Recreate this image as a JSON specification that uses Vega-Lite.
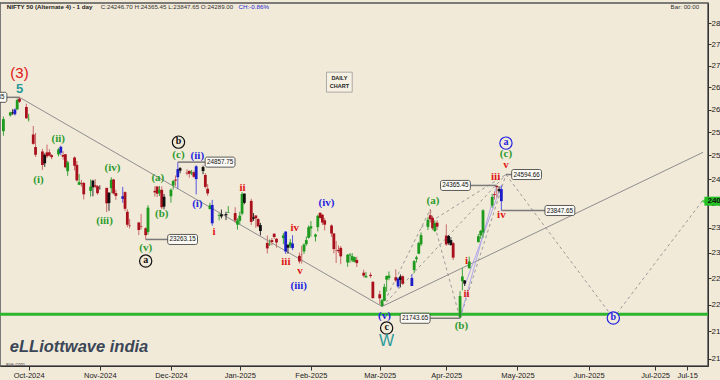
{
"$schema": "https://vega.github.io/schema/vega-lite/v6.json",
"width": 708, "height": 363,
"autosize": {"type": "none"},
"padding": {"left": 0, "top": 3, "right": 12, "bottom": 14},
"background": "#F2EAD9",
"config": {"view": {"stroke": "#555", "strokeWidth": 1.5}, "font": "Liberation Sans"},
"resolve": {"scale": {"color": "independent", "stroke": "independent"}},
"datasets": {
"candles": [
{"d":"2024-09-20T00:00","o":25525,"h":25849,"l":25426,"c":25791,"k":"u"},
{"d":"2024-09-23T00:00","o":25872,"h":25956,"l":25847,"c":25939,"k":"u"},
{"d":"2024-09-24T00:00","o":25921,"h":26011,"l":25886,"c":25940,"k":"n"},
{"d":"2024-09-25T00:00","o":25899,"h":26032,"l":25871,"c":26004,"k":"b"},
{"d":"2024-09-26T00:00","o":26005,"h":26250,"l":25998,"c":26216,"k":"u"},
{"d":"2024-09-27T00:00","o":26248,"h":26277.35,"l":26151,"c":26179,"k":"d"},
{"d":"2024-09-30T00:00","o":26061,"h":26134,"l":25794,"c":25811,"k":"d"},
{"d":"2024-10-01T00:00","o":25788,"h":25907,"l":25739,"c":25797,"k":"u"},
{"d":"2024-10-03T00:00","o":25453,"h":25639,"l":25230,"c":25250,"k":"d"},
{"d":"2024-10-04T00:00","o":25181,"h":25485,"l":24967,"c":25015,"k":"d"},
{"d":"2024-10-07T00:00","o":25085,"h":25143,"l":24694,"c":24796,"k":"d"},
{"d":"2024-10-08T00:00","o":24832,"h":25044,"l":24756,"c":25013,"k":"n"},
{"d":"2024-10-09T00:00","o":25066,"h":25234,"l":24947,"c":24982,"k":"d"},
{"d":"2024-10-10T00:00","o":25067,"h":25134,"l":24980,"c":24998,"k":"d"},
{"d":"2024-10-11T00:00","o":25006,"h":25028,"l":24920,"c":24964,"k":"d"},
{"d":"2024-10-14T00:00","o":25023,"h":25159,"l":24980,"c":25128,"k":"u"},
{"d":"2024-10-15T00:00","o":25186,"h":25212,"l":25008,"c":25057,"k":"b"},
{"d":"2024-10-16T00:00","o":25008,"h":25093,"l":24908,"c":24971,"k":"d"},
{"d":"2024-10-17T00:00","o":25028,"h":25029,"l":24728,"c":24750,"k":"d"},
{"d":"2024-10-18T00:00","o":24664,"h":24886,"l":24567,"c":24854,"k":"u"},
{"d":"2024-10-21T00:00","o":24956,"h":24978,"l":24680,"c":24781,"k":"d"},
{"d":"2024-10-22T00:00","o":24799,"h":24882,"l":24446,"c":24472,"k":"d"},
{"d":"2024-10-23T00:00","o":24378,"h":24604,"l":24378,"c":24435,"k":"u"},
{"d":"2024-10-24T00:00","o":24413,"h":24480,"l":24341,"c":24399,"k":"d"},
{"d":"2024-10-25T00:00","o":24418,"h":24440,"l":24074,"c":24181,"k":"d"},
{"d":"2024-10-28T00:00","o":24252,"h":24492,"l":24134,"c":24339,"k":"u"},
{"d":"2024-10-29T00:00","o":24328,"h":24484,"l":24140,"c":24466,"k":"n"},
{"d":"2024-10-30T00:00","o":24371,"h":24499,"l":24307,"c":24341,"k":"d"},
{"d":"2024-10-31T00:00","o":24349,"h":24372,"l":24172,"c":24205,"k":"d"},
{"d":"2024-11-01T00:00","o":24302,"h":24368,"l":24280,"c":24304,"k":"n"},
{"d":"2024-11-04T00:00","o":24315,"h":24316,"l":23816,"c":23995,"k":"d"},
{"d":"2024-11-05T00:00","o":24000,"h":24229,"l":23842,"c":24213,"k":"n"},
{"d":"2024-11-06T00:00","o":24308,"h":24537,"l":24204,"c":24484,"k":"u"},
{"d":"2024-11-07T00:00","o":24490,"h":24503,"l":24179,"c":24199,"k":"d"},
{"d":"2024-11-08T00:00","o":24207,"h":24276,"l":24066,"c":24148,"k":"d"},
{"d":"2024-11-11T00:00","o":24087,"h":24336,"l":24005,"c":24141,"k":"b"},
{"d":"2024-11-12T00:00","o":24226,"h":24243,"l":23839,"c":23883,"k":"d"},
{"d":"2024-11-13T00:00","o":23823,"h":23874,"l":23509,"c":23559,"k":"d"},
{"d":"2024-11-14T00:00","o":23542,"h":23675,"l":23484,"c":23532,"k":"d"},
{"d":"2024-11-18T00:00","o":23605,"h":23606,"l":23350,"c":23453,"k":"d"},
{"d":"2024-11-19T00:00","o":23529,"h":23780,"l":23464,"c":23518,"k":"d"},
{"d":"2024-11-21T00:00","o":23488,"h":23507,"l":23263.15,"c":23349,"k":"d"},
{"d":"2024-11-22T00:00","o":23411,"h":23956,"l":23359,"c":23907,"k":"u"},
{"d":"2024-11-25T00:00","o":24253,"h":24351,"l":24135,"c":24221,"k":"d"},
{"d":"2024-11-26T00:00","o":24344,"h":24344,"l":24125,"c":24194,"k":"d"},
{"d":"2024-11-27T00:00","o":24204,"h":24354,"l":24145,"c":24274,"k":"u"},
{"d":"2024-11-28T00:00","o":24274,"h":24345,"l":23874,"c":23914,"k":"d"},
{"d":"2024-11-29T00:00","o":23927,"h":24189,"l":23873,"c":24131,"k":"n"},
{"d":"2024-12-02T00:00","o":24140,"h":24301,"l":24008,"c":24276,"k":"u"},
{"d":"2024-12-03T00:00","o":24367,"h":24481,"l":24280,"c":24457,"k":"u"},
{"d":"2024-12-04T00:00","o":24488,"h":24574,"l":24350,"c":24467,"k":"d"},
{"d":"2024-12-05T00:00","o":24539,"h":24857.75,"l":24295,"c":24708,"k":"b"},
{"d":"2024-12-06T00:00","o":24729,"h":24751,"l":24620,"c":24677,"k":"n"},
{"d":"2024-12-09T00:00","o":24633,"h":24705,"l":24580,"c":24619,"k":"d"},
{"d":"2024-12-10T00:00","o":24672,"h":24677,"l":24530,"c":24610,"k":"d"},
{"d":"2024-12-11T00:00","o":24620,"h":24691,"l":24583,"c":24641,"k":"u"},
{"d":"2024-12-12T00:00","o":24642,"h":24675,"l":24527,"c":24548,"k":"d"},
{"d":"2024-12-13T00:00","o":24498,"h":24792,"l":24180,"c":24768,"k":"b"},
{"d":"2024-12-16T00:00","o":24753,"h":24781,"l":24601,"c":24668,"k":"n"},
{"d":"2024-12-17T00:00","o":24585,"h":24624,"l":24303,"c":24336,"k":"d"},
{"d":"2024-12-18T00:00","o":24297,"h":24395,"l":24150,"c":24199,"k":"d"},
{"d":"2024-12-19T00:00","o":23877,"h":24005,"l":23870,"c":23952,"k":"u"},
{"d":"2024-12-20T00:00","o":23961,"h":24066,"l":23538,"c":23588,"k":"b"},
{"d":"2024-12-23T00:00","o":23738,"h":23793,"l":23647,"c":23753,"k":"u"},
{"d":"2024-12-24T00:00","o":23770,"h":23867,"l":23685,"c":23727,"k":"n"},
{"d":"2024-12-26T00:00","o":23775,"h":23822,"l":23653,"c":23750,"k":"n"},
{"d":"2024-12-27T00:00","o":23801,"h":23938,"l":23800,"c":23813,"k":"u"},
{"d":"2024-12-30T00:00","o":23796,"h":23915,"l":23599,"c":23645,"k":"d"},
{"d":"2024-12-31T00:00","o":23560,"h":23689,"l":23460,"c":23645,"k":"u"},
{"d":"2025-01-01T00:00","o":23637,"h":23822,"l":23562,"c":23742,"k":"u"},
{"d":"2025-01-02T00:00","o":23783,"h":24226,"l":23751,"c":24189,"k":"u"},
{"d":"2025-01-03T00:00","o":24196,"h":24196,"l":23976,"c":24005,"k":"n"},
{"d":"2025-01-06T00:00","o":24045,"h":24090,"l":23551,"c":23616,"k":"d"},
{"d":"2025-01-07T00:00","o":23679,"h":23795,"l":23637,"c":23708,"k":"n"},
{"d":"2025-01-08T00:00","o":23746,"h":23751,"l":23497,"c":23689,"k":"d"},
{"d":"2025-01-09T00:00","o":23674,"h":23689,"l":23503,"c":23527,"k":"d"},
{"d":"2025-01-10T00:00","o":23552,"h":23596,"l":23345,"c":23432,"k":"n"},
{"d":"2025-01-13T00:00","o":23195,"h":23341,"l":22986,"c":23086,"k":"d"},
{"d":"2025-01-14T00:00","o":23165,"h":23264,"l":23135,"c":23176,"k":"u"},
{"d":"2025-01-15T00:00","o":23250,"h":23294,"l":23146,"c":23213,"k":"d"},
{"d":"2025-01-16T00:00","o":23377,"h":23392,"l":23272,"c":23312,"k":"d"},
{"d":"2025-01-17T00:00","o":23277,"h":23292,"l":23100,"c":23203,"k":"d"},
{"d":"2025-01-20T00:00","o":23290,"h":23392,"l":23170,"c":23345,"k":"u"},
{"d":"2025-01-21T00:00","o":23421,"h":23426,"l":22977,"c":23025,"k":"b"},
{"d":"2025-01-22T00:00","o":23099,"h":23169,"l":22981,"c":23155,"k":"n"},
{"d":"2025-01-23T00:00","o":23128,"h":23270,"l":23090,"c":23205,"k":"u"},
{"d":"2025-01-24T00:00","o":23183,"h":23347,"l":23050,"c":23092,"k":"b"},
{"d":"2025-01-27T00:00","o":22940,"h":23007,"l":22787,"c":22829,"k":"d"},
{"d":"2025-01-28T00:00","o":22961,"h":23137,"l":22786,"c":22957,"k":"d"},
{"d":"2025-01-29T00:00","o":23026,"h":23183,"l":22977,"c":23163,"k":"u"},
{"d":"2025-01-30T00:00","o":23170,"h":23322,"l":23139,"c":23250,"k":"u"},
{"d":"2025-01-31T00:00","o":23297,"h":23546,"l":23278,"c":23508,"k":"u"},
{"d":"2025-02-01T00:00","o":23528,"h":23633,"l":23319,"c":23482,"k":"u"},
{"d":"2025-02-03T00:00","o":23319,"h":23381,"l":23222,"c":23361,"k":"u"},
{"d":"2025-02-04T00:00","o":23510,"h":23762,"l":23424,"c":23739,"k":"u"},
{"d":"2025-02-05T00:00","o":23801,"h":23807,"l":23680,"c":23696,"k":"d"},
{"d":"2025-02-06T00:00","o":23761,"h":23773,"l":23556,"c":23603,"k":"d"},
{"d":"2025-02-07T00:00","o":23649,"h":23695,"l":23443,"c":23560,"k":"d"},
{"d":"2025-02-10T00:00","o":23543,"h":23568,"l":23316,"c":23382,"k":"d"},
{"d":"2025-02-11T00:00","o":23383,"h":23390,"l":22987,"c":23072,"k":"d"},
{"d":"2025-02-12T00:00","o":23050,"h":23235,"l":22798,"c":23045,"k":"d"},
{"d":"2025-02-13T00:00","o":23056,"h":23145,"l":22992,"c":23031,"k":"d"},
{"d":"2025-02-14T00:00","o":23097,"h":23133,"l":22775,"c":22929,"k":"d"},
{"d":"2025-02-17T00:00","o":22809,"h":22975,"l":22725,"c":22960,"k":"u"},
{"d":"2025-02-18T00:00","o":22964,"h":22993,"l":22801,"c":22945,"k":"u"},
{"d":"2025-02-19T00:00","o":22847,"h":22992,"l":22814,"c":22933,"k":"u"},
{"d":"2025-02-20T00:00","o":22821,"h":22923,"l":22812,"c":22913,"k":"u"},
{"d":"2025-02-21T00:00","o":22858,"h":22922,"l":22720,"c":22796,"k":"d"},
{"d":"2025-02-24T00:00","o":22609,"h":22668,"l":22519,"c":22553,"k":"d"},
{"d":"2025-02-25T00:00","o":22517,"h":22625,"l":22518,"c":22548,"k":"u"},
{"d":"2025-02-27T00:00","o":22568,"h":22614,"l":22508,"c":22545,"k":"d"},
{"d":"2025-02-28T00:00","o":22433,"h":22450,"l":22105,"c":22125,"k":"d"},
{"d":"2025-03-03T00:00","o":22195,"h":22262,"l":22004,"c":22119,"k":"d"},
{"d":"2025-03-04T00:00","o":21975,"h":22105,"l":21964,"c":22083,"k":"u"},
{"d":"2025-03-05T00:00","o":22073,"h":22395,"l":22067,"c":22337,"k":"u"},
{"d":"2025-03-06T00:00","o":22476,"h":22556,"l":22245,"c":22545,"k":"u"},
{"d":"2025-03-07T00:00","o":22509,"h":22634,"l":22464,"c":22553,"k":"u"},
{"d":"2025-03-10T00:00","o":22521,"h":22677,"l":22429,"c":22460,"k":"d"},
{"d":"2025-03-11T00:00","o":22345,"h":22522,"l":22314,"c":22497,"k":"b"},
{"d":"2025-03-12T00:00","o":22536,"h":22578,"l":22329,"c":22470,"k":"n"},
{"d":"2025-03-13T00:00","o":22541,"h":22558,"l":22378,"c":22397,"k":"d"},
{"d":"2025-03-17T00:00","o":22353,"h":22577,"l":22353,"c":22509,"k":"b"},
{"d":"2025-03-18T00:00","o":22662,"h":22857,"l":22599,"c":22834,"k":"u"},
{"d":"2025-03-19T00:00","o":22875,"h":22941,"l":22807,"c":22908,"k":"u"},
{"d":"2025-03-20T00:00","o":22981,"h":23216,"l":22973,"c":23191,"k":"u"},
{"d":"2025-03-21T00:00","o":23168,"h":23403,"l":23132,"c":23350,"k":"u"},
{"d":"2025-03-24T00:00","o":23515,"h":23709,"l":23451,"c":23658,"k":"u"},
{"d":"2025-03-25T00:00","o":23751,"h":23869,"l":23601,"c":23669,"k":"d"},
{"d":"2025-03-26T00:00","o":23700,"h":23736,"l":23451,"c":23487,"k":"d"},
{"d":"2025-03-27T00:00","o":23433,"h":23647,"l":23412,"c":23592,"k":"u"},
{"d":"2025-03-28T00:00","o":23600,"h":23649,"l":23451,"c":23519,"k":"d"},
{"d":"2025-04-01T00:00","o":23341,"h":23566,"l":23136,"c":23165,"k":"d"},
{"d":"2025-04-02T00:00","o":23193,"h":23350,"l":23158,"c":23332,"k":"n"},
{"d":"2025-04-03T00:00","o":23150,"h":23306,"l":23145,"c":23250,"k":"n"},
{"d":"2025-04-04T00:00","o":23190,"h":23214,"l":22857,"c":22904,"k":"d"},
{"d":"2025-04-07T00:00","o":21758,"h":22255,"l":21743.65,"c":22162,"k":"u"},
{"d":"2025-04-08T00:00","o":22446,"h":22697,"l":22270,"c":22536,"k":"u"},
{"d":"2025-04-09T00:00","o":22460,"h":22468,"l":22353,"c":22399,"k":"n"},
{"d":"2025-04-11T00:00","o":22695,"h":22923,"l":22695,"c":22829,"k":"u"},
{"d":"2025-04-15T00:00","o":23208,"h":23368,"l":23207,"c":23328,"k":"u"},
{"d":"2025-04-16T00:00","o":23345,"h":23452,"l":23273,"c":23437,"k":"u"},
{"d":"2025-04-17T00:00","o":23401,"h":23872,"l":23298,"c":23852,"k":"u"},
{"d":"2025-04-21T00:00","o":23949,"h":24189,"l":23903,"c":24125,"k":"u"},
{"d":"2025-04-22T00:00","o":24185,"h":24242,"l":24072,"c":24167,"k":"d"},
{"d":"2025-04-23T00:00","o":24357,"h":24359,"l":24119,"c":24329,"k":"d"},
{"d":"2025-04-24T00:00","o":24289,"h":24347,"l":24216,"c":24247,"k":"n"},
{"d":"2025-04-25T00:00","o":24289,"h":24365.45,"l":23847.65,"c":24039,"k":"b"}
],
"trend": [
{"id":"g1","d":"2024-09-27T00:00","p":26277.35},{"id":"g1","d":"2025-03-04T00:00","p":21964},
{"id":"g2","d":"2025-03-04T00:00","p":21964},{"id":"g2","d":"2025-07-21T21:00","p":25067}
],
"dash": [
{"id":"d1","d":"2025-03-04T00:00","p":21964},{"id":"d1","d":"2025-03-25T00:00","p":23869},
{"id":"d2","d":"2025-03-25T00:00","p":23869},{"id":"d2","d":"2025-04-07T00:00","p":21743.65},
{"id":"d3","d":"2025-04-07T00:00","p":21743.65},{"id":"d3","d":"2025-04-27T00:00","p":24594.66},
{"id":"d4","d":"2025-03-04T00:00","p":21964},{"id":"d4","d":"2025-04-27T00:00","p":24594.66},
{"id":"d5","d":"2025-03-21T00:00","p":23500},{"id":"d5","d":"2025-04-27T00:00","p":24594.66},
{"id":"d6","d":"2025-04-27T00:00","p":24594.66},{"id":"d6","d":"2025-06-12T19:00","p":21747},
{"id":"d7","d":"2025-06-12T19:00","p":21747},{"id":"d7","d":"2025-07-21T21:00","p":24061}
],
"lav": [
{"id":"l1","d":"2025-04-07T00:00","p":21743.65},{"id":"l1","d":"2025-04-23T00:00","p":24359},
{"id":"l2","d":"2025-04-09T00:00","p":22353},{"id":"l2","d":"2025-04-25T00:00","p":24365.45}
],
"conn": [
{"id":"c1","d":"2024-09-21T12:00","p":26277.35},{"id":"c1","d":"2024-09-27T00:00","p":26277.35},
{"id":"c2","d":"2024-11-21T00:00","p":23263.15},{"id":"c2","d":"2024-11-30T14:00","p":23263.15},
{"id":"c3","d":"2024-12-05T00:00","p":24857.75},{"id":"c3","d":"2024-12-16T22:00","p":24857.75},
{"id":"c4","d":"2025-04-11T12:00","p":24365.45},{"id":"c4","d":"2025-04-23T00:00","p":24365.45},
{"id":"c5","d":"2025-04-27T00:00","p":24594.66},{"id":"c5","d":"2025-04-29T12:00","p":24594.66},
{"id":"c6","d":"2025-04-25T00:00","p":23847.65},{"id":"c6","d":"2025-05-14T00:00","p":23847.65},
{"id":"c7","d":"2025-03-24T22:00","p":21743.65},{"id":"c7","d":"2025-04-07T00:00","p":21743.65}
],
"boxes": [
{"t":"26277.35","a":"2024-09-08T00:00","b":"2024-09-21T12:00","m":"2024-09-14T18:00","p":26277.35,"lo":26164.6,"hi":26390.6},
{"t":"23263.15","a":"2024-11-30T14:00","b":"2024-12-13T14:00","m":"2024-12-07T02:00","p":23263.15,"lo":23163.4,"hi":23363.4},
{"t":"24857.75","a":"2024-12-16T22:00","b":"2024-12-29T22:00","m":"2024-12-23T10:00","p":24857.75,"lo":24751.1,"hi":24964.9},
{"t":"24365.45","a":"2025-03-29T12:00","b":"2025-04-11T12:00","m":"2025-04-05T00:00","p":24365.45,"lo":24260.9,"hi":24470.5},
{"t":"24594.66","a":"2025-04-29T12:00","b":"2025-05-12T12:00","m":"2025-05-06T00:00","p":24594.66,"lo":24489.2,"hi":24700.6},
{"t":"23847.65","a":"2025-05-14T00:00","b":"2025-05-27T00:00","m":"2025-05-20T12:00","p":23847.65,"lo":23745.3,"hi":23950.4},
{"t":"21743.65","a":"2025-03-11T22:00","b":"2025-03-24T22:00","m":"2025-03-18T10:00","p":21743.65,"lo":21650.4,"hi":21837.4}
],
"circled": [
{"t":"a","d":"2024-11-21T00:00","p":22836,"g":"primary"},
{"t":"b","d":"2024-12-05T07:00","p":25287,"g":"primary"},
{"t":"c","d":"2025-03-06T00:00","p":21562,"g":"primary"},
{"t":"a","d":"2025-04-27T00:00","p":25266,"g":"cycle"},
{"t":"b","d":"2025-06-12T19:00","p":21747,"g":"cycle"}
],
"waves": [
{"t":"(i)","d":"2024-10-05T07:00","p":24477,"g":"minor"},
{"t":"(ii)","d":"2024-10-13T21:00","p":25353,"g":"minor"},
{"t":"(iii)","d":"2024-11-03T02:00","p":23632,"g":"minor"},
{"t":"(iv)","d":"2024-11-06T12:00","p":24730,"g":"minor"},
{"t":"(v)","d":"2024-11-21T00:00","p":23092,"g":"minor"},
{"t":"(a)","d":"2024-11-26T07:00","p":24519,"g":"minor"},
{"t":"(b)","d":"2024-11-28T00:00","p":23774,"g":"minor"},
{"t":"(c)","d":"2024-12-05T07:00","p":25007,"g":"minor"},
{"t":"(a)","d":"2025-03-26T05:00","p":24041,"g":"minor"},
{"t":"(b)","d":"2025-04-07T14:00","p":21599,"g":"minor"},
{"t":"(c)","d":"2025-04-27T00:00","p":25029,"g":"minor"},
{"t":"(ii)","d":"2024-12-13T12:00","p":24986,"g":"inter"},
{"t":"(i)","d":"2024-12-13T12:00","p":23979,"g":"inter"},
{"t":"(iii)","d":"2025-01-26T17:00","p":22352,"g":"inter"},
{"t":"(iv)","d":"2025-02-07T19:00","p":23999,"g":"inter"},
{"t":"(v)","d":"2025-03-05T02:00","p":21785,"g":"inter"},
{"t":"i","d":"2024-12-20T19:00","p":23411,"g":"minute"},
{"t":"ii","d":"2025-01-02T05:00","p":24310,"g":"minute"},
{"t":"iii","d":"2025-01-21T02:00","p":22816,"g":"minute"},
{"t":"iv","d":"2025-01-25T00:00","p":23491,"g":"minute"},
{"t":"v","d":"2025-01-27T05:00","p":22641,"g":"minute"},
{"t":"i","d":"2025-04-09T19:00","p":22836,"g":"minute"},
{"t":"ii","d":"2025-04-09T19:00","p":22199,"g":"minute"},
{"t":"iii","d":"2025-04-22T12:00","p":24540,"g":"minute"},
{"t":"iv","d":"2025-04-25T00:00","p":23754,"g":"minute"},
{"t":"v","d":"2025-04-27T00:00","p":24794,"g":"minute"}
],
"support": [{"p": 21820}],
"dailybox": [{"a":"2025-02-07T19:00","b":"2025-02-19T00:00","lo":26395,"hi":26850}],
"dailytext": [{"t":"DAILY","d":"2025-02-13T10:00","p":26715},{"t":"CHART","d":"2025-02-13T10:00","p":26530}],
"last": [{"a":"2025-07-22T12:00","b":"2025-08-02T00:00","tri":"2025-07-22T06:00","p":24039.35,"lo":23946.7,"hi":24132.2,"t":"24039.35"}]
},
"layer": [
{"data": {"name": "support"},
 "mark": {"type": "rule", "color": "#2DB52D", "strokeWidth": 3},
 "encoding": {"y": {"field": "p", "type": "quantitative",
   "scale": {"type": "log", "domain": [20872, 28490], "nice": false, "zero": false},
   "axis": {"orient": "right", "title": null, "grid": false, "values": [21000,21500,22000,22500,23000,23500,24000,24500,25000,25500,26000,26500,27000,27500,28000],
     "format": "d", "domainColor": "#333", "tickColor": "#333", "tickSize": 3, "labelFontSize": 8, "labelColor": "#222", "labelPadding": 0, "labelOverlap": false}}}},
{"data": {"name": "trend"},
 "mark": {"type": "line", "color": "#8E8E8E", "strokeWidth": 1},
 "encoding": {
   "x": {"field": "d", "type": "temporal",
     "scale": {"domain": [{"year":2024,"month":9,"date":20,"hours":16,"minutes":30}, {"year":2025,"month":7,"date":21,"hours":21}], "nice": false},
     "axis": {"title": null, "grid": false, "orient": "bottom",
       "values": [
         {"year":2024,"month":10,"date":1},
         {"year":2024,"month":11,"date":1},
         {"year":2024,"month":12,"date":2},
         {"year":2025,"month":1,"date":1},
         {"year":2025,"month":2,"date":1},
         {"year":2025,"month":3,"date":3},
         {"year":2025,"month":4,"date":1},
         {"year":2025,"month":5,"date":2},
         {"year":2025,"month":6,"date":2},
         {"year":2025,"month":7,"date":1},
         {"year":2025,"month":7,"date":15}],
       "labelExpr": "date(datum.value) == 15 ? timeFormat(datum.value, '%b-%d') : timeFormat(datum.value, '%b-%Y')",
       "domainColor": "#333", "tickColor": "#333", "tickSize": 4, "labelFontSize": 7.5, "labelColor": "#222", "labelPadding": 1, "labelOverlap": false}},
   "y": {"field": "p", "type": "quantitative"},
   "detail": {"field": "id"}}},
{"data": {"name": "dash"},
 "mark": {"type": "line", "color": "#9A9A9A", "strokeWidth": 1, "strokeDash": [3, 3]},
 "encoding": {"x": {"field": "d", "type": "temporal"}, "y": {"field": "p", "type": "quantitative"}, "detail": {"field": "id"}}},
{"data": {"name": "lav"},
 "mark": {"type": "line", "color": "#AFA6E8", "strokeWidth": 1},
 "encoding": {"x": {"field": "d", "type": "temporal"}, "y": {"field": "p", "type": "quantitative"}, "detail": {"field": "id"}}},
{"data": {"name": "candles"},
 "mark": {"type": "rule", "strokeWidth": 1},
 "encoding": {"x": {"field": "d", "type": "temporal"}, "y": {"field": "l", "type": "quantitative"}, "y2": {"field": "h"},
   "color": {"field": "k", "type": "nominal", "scale": {"domain": ["u","d","b","n"], "range": ["#3DA23D","#C86A6A","#5858E0","#333333"]}, "legend": null}}},
{"data": {"name": "candles"},
 "mark": {"type": "bar", "size": 2.8},
 "encoding": {"x": {"field": "d", "type": "temporal"}, "y": {"field": "o", "type": "quantitative"}, "y2": {"field": "c"},
   "color": {"field": "k", "type": "nominal", "scale": {"domain": ["u","d","b","n"], "range": ["#1E9A1E","#A8101C","#1C1CC8","#111111"]}, "legend": null}}},
{"data": {"name": "conn"},
 "mark": {"type": "line", "color": "#7A7A7A", "strokeWidth": 1.5},
 "encoding": {"x": {"field": "d", "type": "temporal"}, "y": {"field": "p", "type": "quantitative"}, "detail": {"field": "id"}}},
{"data": {"name": "boxes"},
 "mark": {"type": "rect", "fill": "#FBFAF5", "stroke": "#333", "strokeWidth": 0.8, "cornerRadius": 2},
 "encoding": {"x": {"field": "a", "type": "temporal"}, "x2": {"field": "b"}, "y": {"field": "lo", "type": "quantitative"}, "y2": {"field": "hi"}}},
{"data": {"name": "boxes"},
 "mark": {"type": "text", "fontSize": 6.3, "color": "#111", "baseline": "middle", "align": "center"},
 "encoding": {"x": {"field": "m", "type": "temporal"}, "y": {"field": "p", "type": "quantitative"}, "text": {"field": "t"}}},
{"data": {"name": "dailybox"},
 "mark": {"type": "rect", "fill": "#F7F1E4", "stroke": "#999", "strokeWidth": 0.8},
 "encoding": {"x": {"field": "a", "type": "temporal"}, "x2": {"field": "b"}, "y": {"field": "lo", "type": "quantitative"}, "y2": {"field": "hi"}}},
{"data": {"name": "dailytext"},
 "mark": {"type": "text", "fontSize": 5.5, "fontWeight": "bold", "color": "#222", "baseline": "middle"},
 "encoding": {"x": {"field": "d", "type": "temporal"}, "y": {"field": "p", "type": "quantitative"}, "text": {"field": "t"}}},
{"data": {"name": "circled"},
 "mark": {"type": "point", "shape": "circle", "size": 150, "fill": "#F2EAD9", "fillOpacity": 1, "strokeWidth": 1.2},
 "encoding": {"x": {"field": "d", "type": "temporal"}, "y": {"field": "p", "type": "quantitative"},
   "stroke": {"field": "g", "type": "nominal", "scale": {"domain": ["primary","cycle"], "range": ["#111111","#2424E0"]}, "legend": null}}},
{"data": {"name": "circled"},
 "mark": {"type": "text", "font": "Liberation Serif", "fontWeight": "bold", "fontSize": 10, "baseline": "middle", "dy": -1},
 "encoding": {"x": {"field": "d", "type": "temporal"}, "y": {"field": "p", "type": "quantitative"}, "text": {"field": "t"},
   "color": {"field": "g", "type": "nominal", "scale": {"domain": ["primary","cycle"], "range": ["#111111","#2424E0"]}, "legend": null}}},
{"data": {"name": "waves"},
 "mark": {"type": "text", "font": "Liberation Serif", "fontWeight": "bold", "fontSize": 11, "baseline": "middle"},
 "encoding": {"x": {"field": "d", "type": "temporal"}, "y": {"field": "p", "type": "quantitative"}, "text": {"field": "t"},
   "color": {"field": "g", "type": "nominal", "scale": {"domain": ["minor","inter","minute"], "range": ["#2E9A2E","#2424E0","#E01414"]}, "legend": null}}},
{"data": {"values": [{"t":"(3)","d":"2024-09-27T00:00","p":26827}]},
 "mark": {"type": "text", "fontSize": 15, "color": "#E01414", "baseline": "middle"},
 "encoding": {"x": {"field": "d", "type": "temporal"}, "y": {"field": "p", "type": "quantitative"}, "text": {"field": "t"}}},
{"data": {"values": [{"t":"5","d":"2024-09-27T00:00","p":26463}]},
 "mark": {"type": "text", "fontSize": 13, "fontWeight": "bold", "color": "#2A9A9A", "baseline": "middle"},
 "encoding": {"x": {"field": "d", "type": "temporal"}, "y": {"field": "p", "type": "quantitative"}, "text": {"field": "t"}}},
{"data": {"values": [{"t":"W","d":"2025-03-06T00:00","p":21323}]},
 "mark": {"type": "text", "fontSize": 16, "color": "#2A9A9A", "baseline": "middle"},
 "encoding": {"x": {"field": "d", "type": "temporal"}, "y": {"field": "p", "type": "quantitative"}, "text": {"field": "t"}}},
{"data": {"values": [{"t":"NIFTY 50 (Alternate 4) - 1 day","d":"2024-09-21T12:00","p":28388}]},
 "mark": {"type": "text", "fontSize": 6.2, "fontWeight": "bold", "color": "#222", "align": "left", "baseline": "middle"},
 "encoding": {"x": {"field": "d", "type": "temporal"}, "y": {"field": "p", "type": "quantitative"}, "text": {"field": "t"}}},
{"data": {"values": [{"t":"C:24246.70  H:24365.45  L:23847.65  O:24289.00","d":"2024-11-01T10:00","p":28388}]},
 "mark": {"type": "text", "fontSize": 6.2, "color": "#333", "align": "left", "baseline": "middle"},
 "encoding": {"x": {"field": "d", "type": "temporal"}, "y": {"field": "p", "type": "quantitative"}, "text": {"field": "t"}}},
{"data": {"values": [{"t":"CH:-0.86%","d":"2024-12-31T12:00","p":28388}]},
 "mark": {"type": "text", "fontSize": 6.2, "color": "#2424D0", "align": "left", "baseline": "middle"},
 "encoding": {"x": {"field": "d", "type": "temporal"}, "y": {"field": "p", "type": "quantitative"}, "text": {"field": "t"}}},
{"data": {"values": [{"t":"Bar: 00:00","d":"2025-07-20T05:00","p":28388}]},
 "mark": {"type": "text", "fontSize": 6.2, "color": "#333", "align": "right", "baseline": "middle"},
 "encoding": {"x": {"field": "d", "type": "temporal"}, "y": {"field": "p", "type": "quantitative"}, "text": {"field": "t"}}},
{"data": {"values": [{"t":"eLLiottwave india","d":"2024-09-22T19:00","p":21222}]},
 "mark": {"type": "text", "fontSize": 16.5, "fontWeight": "bold", "fontStyle": "italic", "color": "#3A4656", "align": "left", "baseline": "middle"},
 "encoding": {"x": {"field": "d", "type": "temporal"}, "y": {"field": "p", "type": "quantitative"}, "text": {"field": "t"}}},
{"data": {"values": [{"t":"ave.com","d":"2024-09-21T00:00","p":20906}]},
 "mark": {"type": "text", "fontSize": 5, "color": "#555", "align": "left", "baseline": "middle"},
 "encoding": {"x": {"field": "d", "type": "temporal"}, "y": {"field": "p", "type": "quantitative"}, "text": {"field": "t"}}},
{"data": {"name": "last"},
 "mark": {"type": "rect", "fill": "#22C022"},
 "encoding": {"x": {"field": "a", "type": "temporal"}, "x2": {"field": "b"}, "y": {"field": "lo", "type": "quantitative"}, "y2": {"field": "hi"}}},
{"data": {"name": "last"},
 "mark": {"type": "point", "shape": "triangle-left", "size": 40, "fill": "#22C022", "filled": true, "strokeWidth": 0},
 "encoding": {"x": {"field": "tri", "type": "temporal"}, "y": {"field": "p", "type": "quantitative"}}},
{"data": {"name": "last"},
 "mark": {"type": "text", "fontSize": 8, "fontWeight": "bold", "color": "#111", "align": "left", "baseline": "middle", "dx": 3},
 "encoding": {"x": {"field": "a", "type": "temporal"}, "y": {"field": "p", "type": "quantitative"}, "text": {"field": "t"}}}
]
}
